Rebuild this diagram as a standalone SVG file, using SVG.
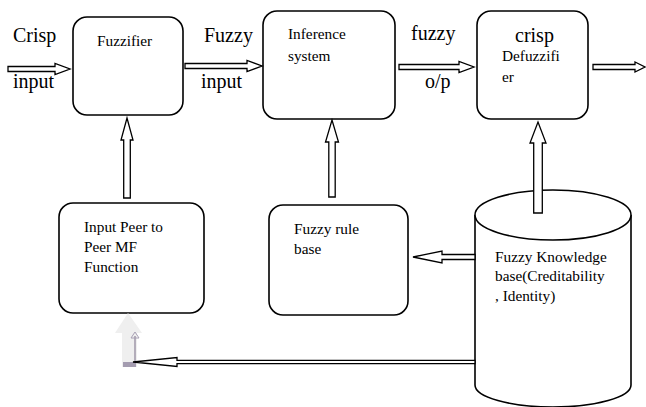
<svg xmlns="http://www.w3.org/2000/svg" width="646" height="407" viewBox="0 0 646 407">
<style>
.box{fill:#fff;stroke:#000;stroke-width:1.6}
.arr{fill:#fff;stroke:#000;stroke-width:1.3;stroke-linejoin:miter}
.big{font-family:"Liberation Serif","Times New Roman",serif;font-size:20px;fill:#000}
.sm{font-family:"Liberation Serif","Times New Roman",serif;font-size:15.3px;fill:#000}
</style>
<rect width="646" height="407" fill="#fff"/>
<g id="fuzzifier">
<rect class="box" x="73" y="17" width="110" height="98" rx="14"/>
<text class="sm" x="97" y="46">Fuzzifier</text>
</g>
<g id="inference">
<rect class="box" x="263" y="11" width="132" height="108" rx="14"/>
<text class="sm" x="288" y="39">Inference</text>
<text class="sm" x="288" y="61">system</text>
</g>
<g id="defuzzifier">
<rect class="box" x="477" y="11" width="111" height="108" rx="14"/>
<text class="big" x="515" y="42">crisp</text>
<text class="sm" x="502" y="61">Defuzzifi</text>
<text class="sm" x="502" y="82">er</text>
</g>
<g id="inputpeer">
<rect class="box" x="59" y="203" width="145" height="110" rx="14"/>
<text class="sm" x="84" y="232">Input Peer to</text>
<text class="sm" x="84" y="252">Peer MF</text>
<text class="sm" x="84" y="272">Function</text>
</g>
<g id="rulebase">
<rect class="box" x="269" y="205" width="139" height="110" rx="14"/>
<text class="sm" x="294" y="234">Fuzzy rule</text>
<text class="sm" x="294" y="254">base</text>
</g>
<g id="knowledge">
<path class="box" d="M475,215 L475,385 A78,22 0 0 0 631,385 L631,215"/>
<ellipse class="box" cx="553" cy="215" rx="78" ry="25"/>
<text class="sm" x="495" y="262">Fuzzy Knowledge</text>
<text class="sm" x="495" y="281">base(Creditability</text>
<text class="sm" x="495" y="301">, Identity)</text>
</g>
<g id="labels">
<text class="big" x="13" y="42">Crisp</text>
<text class="big" x="13" y="88">input</text>
<text class="big" x="204" y="42">Fuzzy</text>
<text class="big" x="201" y="88">input</text>
<text class="big" x="411" y="40">fuzzy</text>
<text class="big" x="425" y="88">o/p</text>
</g>
<g id="artifact">
<polygon points="128,313 115,333 122,333 122,367 137,367 137,333 142,333" fill="#efefef"/>
<line x1="135" y1="336" x2="135" y2="362" stroke="#8a8096" stroke-width="1.2"/>
<polygon points="131,338 135,332 139,338" fill="none" stroke="#a8a0b4" stroke-width="1"/>
<rect x="123" y="362" width="13" height="5" fill="#a49cb0"/>
</g>
<g id="connectors">
<polygon class="arr" points="8,66.5 55,66.5 55,63.5 70,69 55,74.5 55,71.5 8,71.5"/>
<polygon class="arr" points="185,63.5 247,63.5 247,60.5 262,66 247,71.5 247,68.5 185,68.5"/>
<polygon class="arr" points="399,64.5 459,64.5 459,61.5 474,67 459,72.5 459,69.5 399,69.5"/>
<polygon class="arr" points="593,64.5 635,64.5 635,62 645,67 635,72 635,69.5 593,69.5"/>
<polygon class="arr" points="123.7,198 123.7,140 121,140 127,118 133,140 130.3,140 130.3,198"/>
<polygon class="arr" points="328.8,197 328.8,142 325.5,142 332,120 338.5,142 335.2,142 335.2,197"/>
<polygon class="arr" points="533.7,213 533.7,143 530,143 538,122 546,143 542.3,143 542.3,213"/>
<polygon class="arr" points="475,254.5 442,254.5 442,251 413,257 442,263 442,259.5 475,259.5"/>
<polygon class="arr" points="475,360.3 177,360.3 177,357.5 133,362 177,366.5 177,363.7 475,363.7"/>
</g>
</svg>
